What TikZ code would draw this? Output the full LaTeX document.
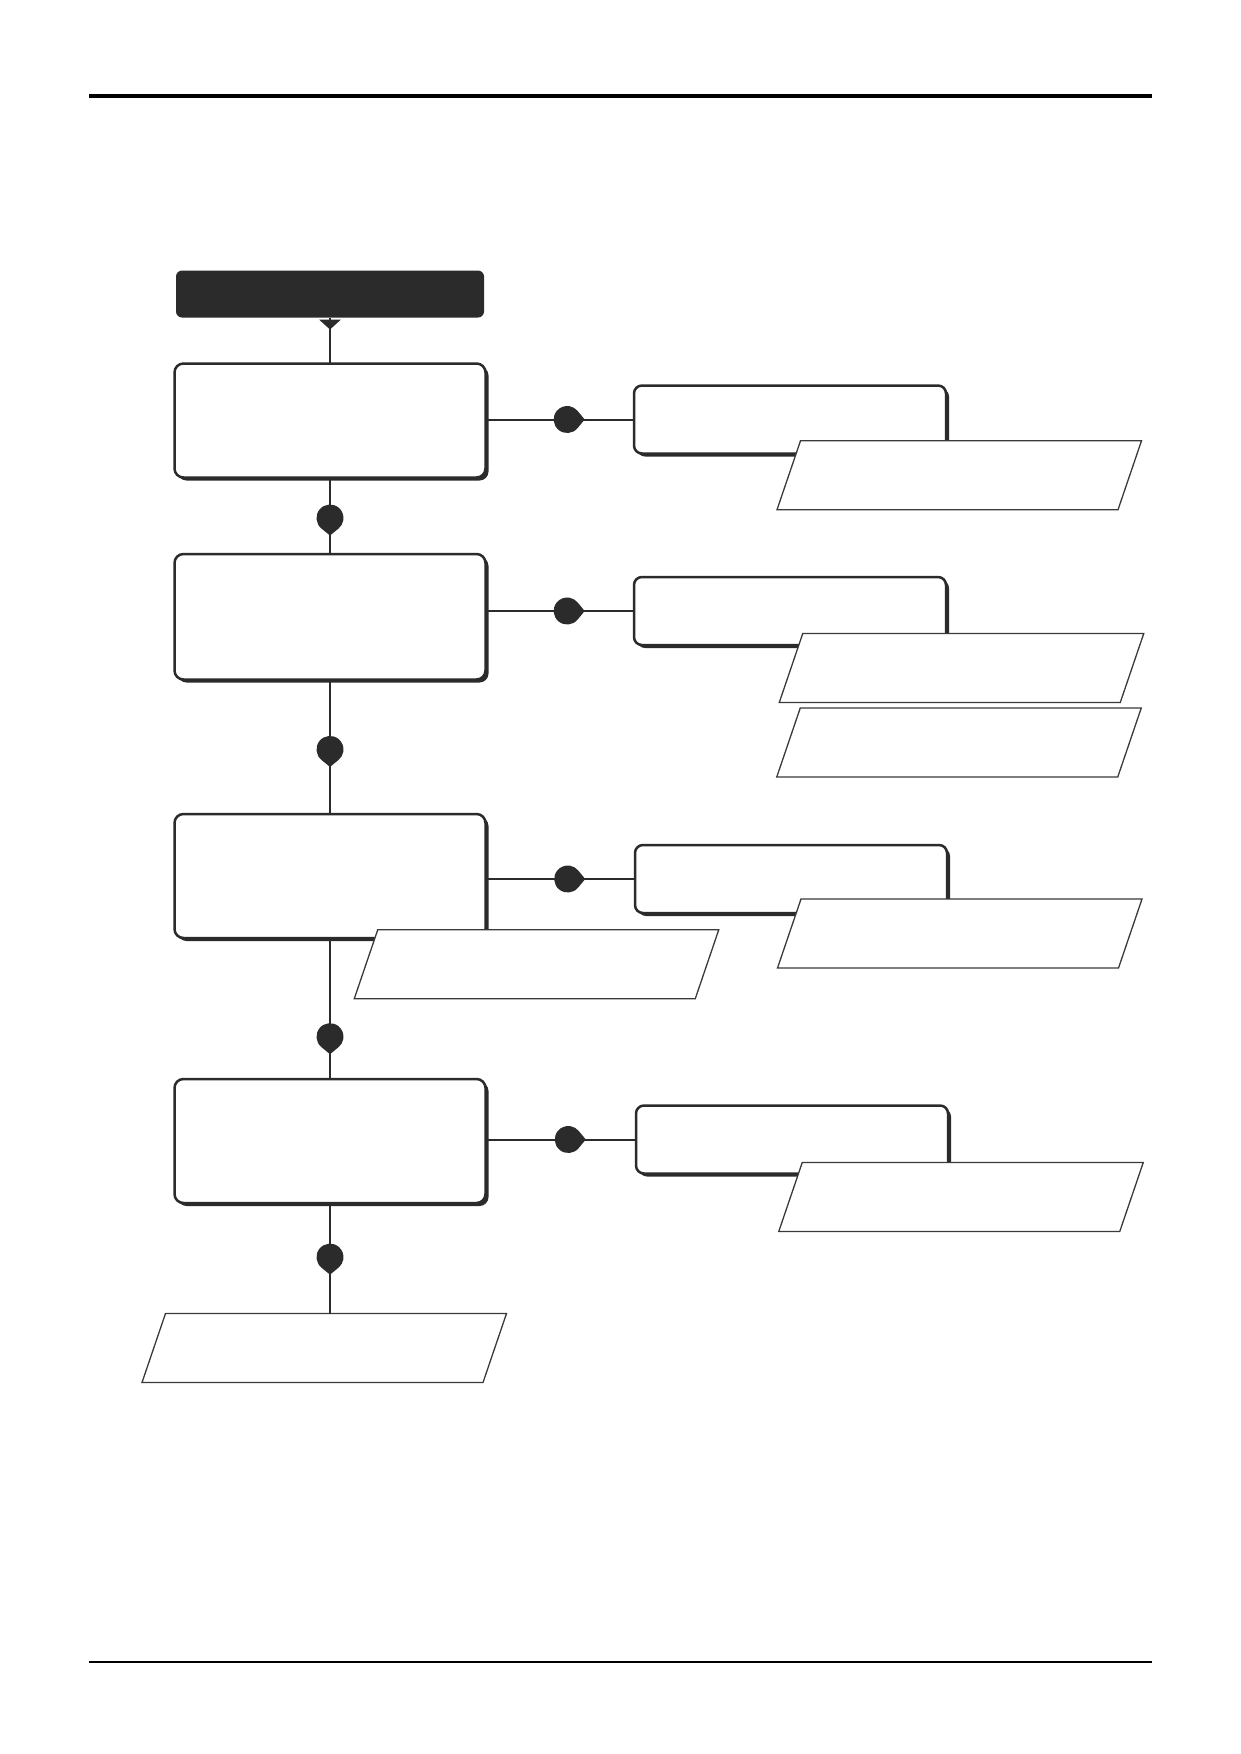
\documentclass[tikz,border=0pt]{standalone}
\usepackage{xcolor}
\usetikzlibrary{calc, positioning}
\usetikzlibrary{shadows}

\definecolor{inkgray}{HTML}{2B2B2B}
\definecolor{notegray}{HTML}{3A3A3A}

\tikzset{
  headbox/.style={rectangle, rounded corners=6pt, fill=inkgray,
    inner sep=0pt, outer sep=0pt},
  mainbox/.style={rectangle, rounded corners=9pt, draw=inkgray, line width=2.5pt,
    fill=white, inner sep=0pt, outer sep=0pt, minimum width=311pt,
    drop shadow={shadow xshift=3pt, shadow yshift=-3pt, fill=inkgray, opacity=1}},
  sidebox/.style={mainbox, rounded corners=8pt, minimum width=312pt, minimum height=68pt},
  notebox/.style={rectangle, inner sep=0pt, outer sep=0pt,
    minimum width=341pt, minimum height=69pt},
  noteline/.style={draw=notegray, line width=1.3pt, fill=white},
  link/.style={draw=inkgray, line width=2pt},
  pics/dropdown/.style={code={
    \fill[inkgray] (90:17.5) -- (129.5:13.5) arc[start angle=129.5, end angle=410.5, radius=13.5] -- cycle;}},
  pics/dropright/.style={code={
    \fill[inkgray] (0:17.5) -- (39.5:13.5) arc[start angle=39.5, end angle=320.5, radius=13.5] -- cycle;}}
}
\def\slant{11.75pt}

\begin{document}
\begin{tikzpicture}[x=1pt,y=-1pt]
\useasboundingbox (0,0) rectangle (1240,1754);

% Page rules
\draw[line width=4pt, black] (89,96) -- (1152,96);
\draw[line width=2pt, black] (89,1662) -- (1152,1662);

% Main column
\node[headbox, minimum width=308pt, minimum height=47pt] (start) at (330,294) {};
\node[mainbox, minimum height=114pt] (task1) at (330,420.5) {};
\node[mainbox, minimum height=125.5pt] (task2) at (330,616.75) {};
\node[mainbox, minimum height=124pt] (task3) at (330,876) {};
\node[mainbox, minimum height=124pt] (task4) at (330,1141) {};

% Side boxes
\node[sidebox] (side1) at (790,419.5) {};
\node[sidebox] (side2) at (790,611) {};
\node[sidebox] (side3) at (791,879) {};
\node[sidebox] (side4) at (792,1139.5) {};

% Notes (parallelograms on their frames)
\node[notebox] (note1) at (959.25,475.25) {};
\node[notebox] (note2a) at (961.5,668) {};
\node[notebox] (note2b) at (959,742.5) {};
\node[notebox] (note3) at (959.75,933.5) {};
\node[notebox] (note4) at (536.5,964.25) {};
\node[notebox] (note5) at (961,1197) {};
\node[notebox] (out) at (324.25,1348) {};
\foreach \n in {note1, note2a, note2b, note3, note4, note5, out}
  \path[noteline] ([xshift=\slant]\n.north west) -- ([xshift=\slant]\n.north east)
    -- ([xshift=-\slant]\n.south east) -- ([xshift=-\slant]\n.south west) -- cycle;

% Connectors
\draw[link] (start.south) -- (task1.north);
\fill[inkgray] ([xshift=-11pt,yshift=-2pt]start.south) -- ++(22,0) -- ++(-11,10) -- cycle;
\foreach \a/\b in {task1/task2, task2/task3, task3/task4}
  \draw[link] (\a.south) -- (\b.north);
\draw[link] (task4.south) -- (task4.south |- out.north);
\foreach \i in {1,...,4}
  \draw[link] (side\i.west -| task\i.east) -- (side\i.west);

% Flow dots
\pic at ($(task1.south)!0.53!(task2.north)$) {dropdown};
\pic at ($(task2.south)!0.52!(task3.north)$) {dropdown};
\pic at ($(task3.south)!0.70!(task4.north)$) {dropdown};
\pic at ($(task4.south)!0.49!(task4.south |- out.north)$) {dropdown};
\foreach \i in {1,...,4}
  \pic at ($(side\i.west -| task\i.east)!0.55!(side\i.west)$) {dropright};
\end{tikzpicture}
\end{document}
